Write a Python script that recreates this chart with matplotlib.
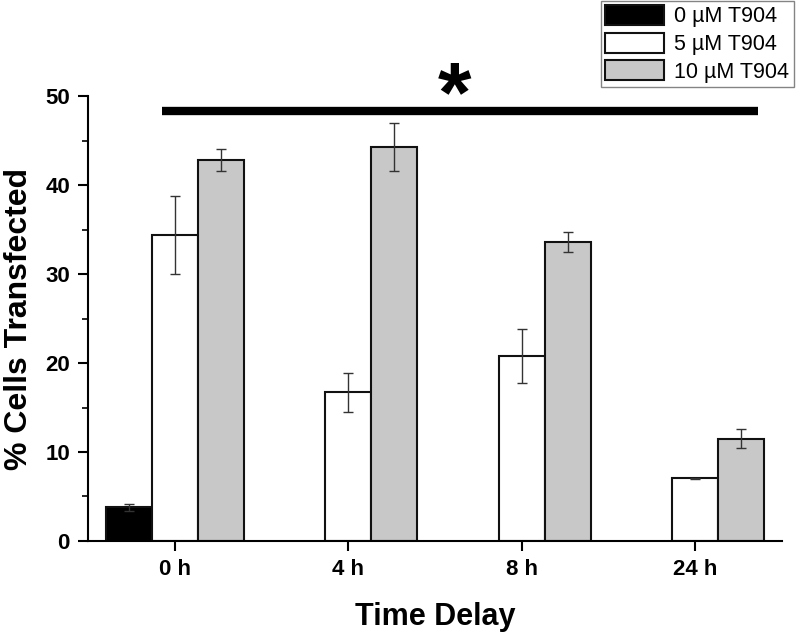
import matplotlib.pyplot as plt
import numpy as np

plt.rcParams['font.family'] = ['Liberation Sans', 'DejaVu Sans']

times = ['0 h', '4 h', '8 h', '24 h']
series = ['0 \u00b5M T904', '5 \u00b5M T904', '10 \u00b5M T904']

ctrl = [3.8, np.nan, np.nan, np.nan]
ctrl_err = [0.4, np.nan, np.nan, np.nan]
low = [34.4, 16.7, 20.8, 7.05]
low_err = [4.4, 2.2, 3.0, 0.05]
high = [42.8, 44.3, 33.6, 11.5]
high_err = [1.2, 2.7, 1.1, 1.05]

colors = ['black', 'white', '#c8c8c8']

fig = plt.figure(figsize=(8, 6.32), dpi=100)
ax = fig.add_axes([0.11, 0.144, 0.8675, 0.704])

x = np.arange(len(times))
w = 0.266
for k, (vals, errs) in enumerate([(ctrl, ctrl_err), (low, low_err), (high, high_err)]):
    pos = x + (k - 1) * w
    ax.bar(pos, vals, width=w, color=colors[k], edgecolor='#111111',
           linewidth=1.5, label=series[k], zorder=2)
    ax.errorbar(pos, vals, yerr=errs, fmt='none', ecolor='#333333',
                elinewidth=1.0, capsize=3.5, capthick=1.0, zorder=3)

# significance bar and star
ax.plot([-0.075, 3.36], [48.3, 48.3], color='black', linewidth=6,
        solid_capstyle='butt', zorder=4)
ax.text(1.61, 49.7, '*', fontsize=62, fontweight='bold', ha='center',
        va='center', clip_on=False)

ax.set_xlim(-0.5, 3.5)
ax.set_ylim(0, 50)
ax.set_xticks(x)
ax.set_xticklabels(times)
ax.set_yticks(np.arange(0, 51, 10))
ax.set_yticks(np.arange(5, 50, 10), minor=True)

for side in ['top', 'right']:
    ax.spines[side].set_visible(False)
for side in ['left', 'bottom']:
    ax.spines[side].set_linewidth(1.5)

ax.tick_params(which='major', direction='out', length=7, width=1.5,
               labelsize=16, pad=6)
ax.tick_params(which='minor', direction='out', length=4, width=1.2)
for lab in ax.get_xticklabels() + ax.get_yticklabels():
    lab.set_fontweight('bold')

ax.set_xlabel('Time Delay', fontsize=22, fontweight='bold', labelpad=16)
ax.set_ylabel('% Cells Transfected', fontsize=23, fontweight='bold', labelpad=8)

leg = fig.legend(loc='upper right', bbox_to_anchor=(0.992, 0.999),
                 fontsize=15.5, frameon=True, fancybox=False, edgecolor='#666666',
                 handlelength=2.7, handleheight=1.05, handletextpad=0.5,
                 labelspacing=0.25, borderpad=0.2, borderaxespad=0)
leg.get_frame().set_linewidth(1.0)

fig.savefig('out.png', dpi=100)
